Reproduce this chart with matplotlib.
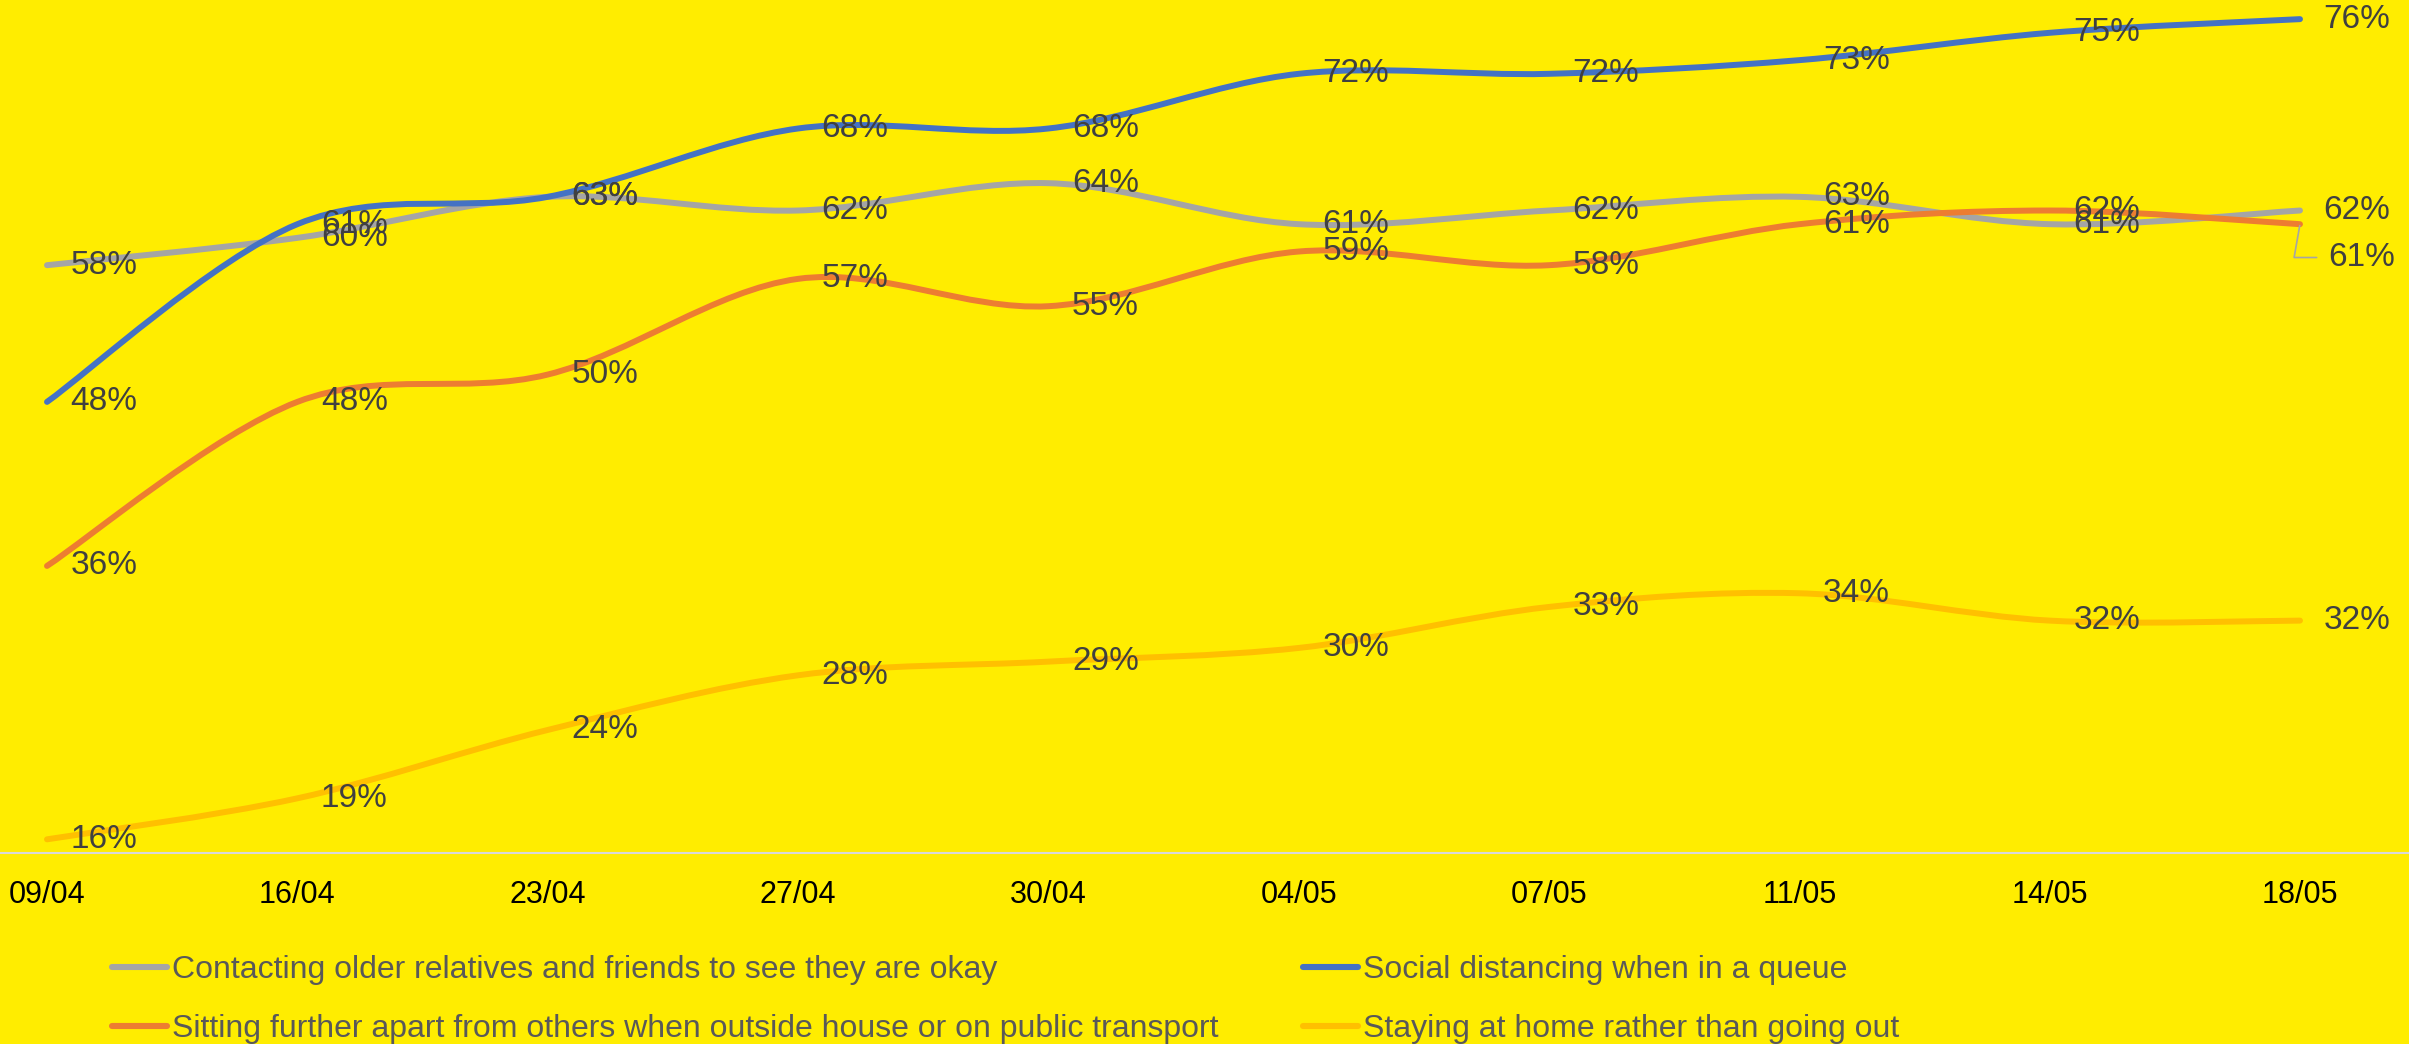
import matplotlib
matplotlib.use("Agg")
import matplotlib.pyplot as plt
from matplotlib.path import Path
from matplotlib.patches import PathPatch
from matplotlib.lines import Line2D
import numpy as np

dates = ["09/04", "16/04", "23/04", "27/04", "30/04", "04/05", "07/05", "11/05", "14/05", "18/05"]
contacting = [58, 60, 63, 62, 64, 61, 62, 63, 61, 62]
queue = [48, 61, 63, 68, 68, 72, 72, 73, 75, 76]
sitting = [36, 48, 50, 57, 55, 59, 58, 61, 62, 61]
staying = [16, 19, 24, 28, 29, 30, 33, 34, 32, 32]

series_names = [
    "Contacting older relatives and friends to see they are okay",
    "Social distancing when in a queue",
    "Sitting further apart from others when outside house or on public transport",
    "Staying at home rather than going out",
]
series_values = [contacting, queue, sitting, staying]
series_colors = ["#A5A5A5", "#4472C4", "#ED7D31", "#FFC000"]

BG = "#FFED00"
LABEL_C = "#404040"
LEG_C = "#595959"
FONT = ["Liberation Sans", "DejaVu Sans"]
plt.rcParams["font.family"] = FONT

W, H = 2409, 1044
fig = plt.figure(figsize=(W / 100, H / 100), dpi=100, facecolor=BG)
ax = fig.add_axes([0, (H - 853) / H, 1, 853 / H])
ax.set_facecolor(BG)

x = np.arange(len(dates), dtype=float)


def smooth_path(xs, ys):
    pts = np.column_stack([xs, ys]).astype(float)
    n = len(pts)
    verts = [pts[0]]
    codes = [Path.MOVETO]
    for i in range(n - 1):
        p0 = pts[i - 1] if i > 0 else pts[i]
        p1 = pts[i]
        p2 = pts[i + 1]
        p3 = pts[i + 2] if i + 2 < n else pts[i + 1]
        c1 = p1 + (p2 - p0) / 6.0
        c2 = p2 - (p3 - p1) / 6.0
        verts += [c1, c2, p2]
        codes += [Path.CURVE4] * 3
    return Path(verts, codes)


handles = {}
for name, vals, col in zip(series_names, series_values, series_colors):
    patch = PathPatch(smooth_path(x, vals), facecolor="none", edgecolor=col,
                      lw=4.3, capstyle="round", joinstyle="round", zorder=3)
    ax.add_patch(patch)
    handles[name] = Line2D([], [], color=col, lw=4.4, solid_capstyle="round")

LFS = 24
for si, (vals, col) in enumerate(zip(series_values, series_colors)):
    for i, v in enumerate(vals):
        if si == 2 and i == len(vals) - 1:
            ax.annotate(f"{v}%", xy=(x[i], v), xytext=(20, -24), textcoords="offset points",
                        ha="left", va="center", fontsize=LFS, color=LABEL_C, zorder=5,
                        arrowprops=dict(arrowstyle="-", color="#A5A5A5", lw=1.2,
                                        shrinkA=6, shrinkB=1, relpos=(0, 0.5),
                                        connectionstyle="angle,angleA=0,angleB=80,rad=0"))
        else:
            ax.annotate(f"{v}%", xy=(x[i], v), xytext=(17, 0), textcoords="offset points",
                        ha="left", va="center", fontsize=LFS, color=LABEL_C, zorder=5)

ax.set_xlim(-47 / 250.3, 9 + 109 / 250.3)
ax.set_ylim(15, 77.4)
ax.set_xticks(x)
ax.set_xticklabels(dates, fontsize=22, color="black")
ax.tick_params(axis="x", length=0, pad=19.5)
ax.set_yticks([])
for s in ["top", "left", "right"]:
    ax.spines[s].set_visible(False)
ax.spines["bottom"].set_color("#D9D9D9")
ax.spines["bottom"].set_linewidth(1.5)

order = [series_names[0], series_names[2], series_names[1], series_names[3]]
leg = fig.legend([handles[n] for n in order], order, ncol=2, frameon=False,
                 loc="upper left", bbox_to_anchor=(112 / W, 1 - 955 / H),
                 fontsize=23, labelcolor=LEG_C, handlelength=1.72, handletextpad=0.16,
                 columnspacing=2.65, labelspacing=0.92, borderpad=0, borderaxespad=0)

fig.savefig("out.png", dpi=100, facecolor=BG)
